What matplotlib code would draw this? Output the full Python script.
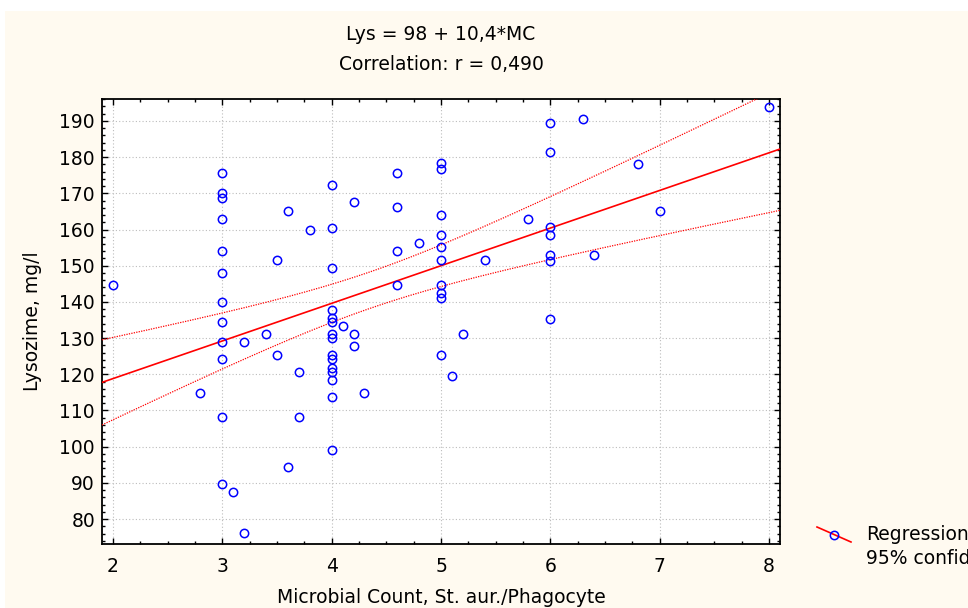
import numpy as np
import matplotlib
matplotlib.use("Agg")
import matplotlib.pyplot as plt
from matplotlib.lines import Line2D
from matplotlib.patches import Rectangle
from matplotlib.ticker import MultipleLocator

# Microbial count (St. aur./Phagocyte) and lysozyme (mg/l)
mc = [2.0, 2.8,
      3.0, 3.0, 3.0, 3.0, 3.0, 3.0, 3.0, 3.0, 3.0, 3.0, 3.0, 3.0,
      3.1, 3.2, 3.2, 3.4, 3.5, 3.5, 3.6, 3.6, 3.7, 3.7, 3.8,
      4.0, 4.0, 4.0, 4.0, 4.0, 4.0, 4.0, 4.0, 4.0, 4.0, 4.0, 4.0, 4.0, 4.0, 4.0,
      4.1, 4.2, 4.2, 4.2, 4.3, 4.6, 4.6, 4.6, 4.6, 4.8,
      5.0, 5.0, 5.0, 5.0, 5.0, 5.0, 5.0, 5.0, 5.0, 5.0,
      5.1, 5.2, 5.4, 5.8,
      6.0, 6.0, 6.0, 6.0, 6.0, 6.0, 6.0,
      6.3, 6.4, 6.8, 7.0, 8.0]
lys = [144.6, 114.9,
       175.7, 170.0, 168.7, 162.8, 154.0, 148.1, 140.0, 134.5, 128.8, 124.1, 108.3, 89.6,
       87.4, 128.8, 76.1, 131.2, 151.6, 125.3, 165.2, 94.3, 120.7, 108.3, 159.8,
       172.2, 160.5, 149.3, 137.7, 135.5, 134.4, 131.2, 129.9, 125.3, 124.1, 121.8,
       120.7, 118.4, 113.6, 99.0,
       133.4, 167.5, 131.2, 127.7, 114.9, 175.7, 166.3, 154.0, 144.7, 156.2,
       178.3, 176.8, 164.0, 158.6, 155.1, 151.6, 144.7, 142.5, 141.2, 125.3,
       119.5, 131.2, 151.6, 162.9,
       189.3, 181.5, 160.8, 158.5, 152.9, 151.4, 135.4,
       190.4, 152.9, 178.0, 165.2, 193.9]

# regression as printed on the chart
intercept = 98.0
slope = 10.4

title_lines = ["Lys = 98 + 10,4*MC", "Correlation: r = 0,490"]
x_label = "Microbial Count, St. aur./Phagocyte"
y_label = "Lysozime, mg/l"
legend_labels = ["Regression", "95% confid."]

plt.rcParams["font.family"] = ["DejaVu Sans"]
FS = 13.5

x = np.array(mc)
y = np.array(lys)

# 95% confidence band of the regression line
n = len(x)
resid = y - (intercept + slope * x)
s = np.sqrt(np.sum(resid ** 2) / (n - 2))
sxx = np.sum((x - x.mean()) ** 2)
t = 1.99
xs = np.linspace(1.9, 8.1, 200)
fit = intercept + slope * xs
half = t * s * np.sqrt(1 / n + (xs - x.mean()) ** 2 / sxx)

fig = plt.figure(figsize=(9.68, 6.08), dpi=100)
fig.patch.set_facecolor("white")
fig.add_artist(Rectangle((5 / 968, 0), 1, 1 - 10.5 / 608,
                         transform=fig.transFigure, facecolor="#fffaf0",
                         edgecolor="none", zorder=-10))

ax = fig.add_axes([102 / 968, 1 - 544 / 608, 678 / 968, 445.5 / 608])
ax.set_facecolor("white")

ax.plot(xs, fit, color="red", lw=1.2, zorder=3)
ax.plot(xs, fit + half, color="red", lw=0.9, ls=(0, (1, 1)), zorder=3)
ax.plot(xs, fit - half, color="red", lw=0.9, ls=(0, (1, 1)), zorder=3)
ax.plot(x, y, "o", ms=6, mfc="none", mec="blue", mew=1.1, zorder=4, clip_on=False)

ax.set_xlim(1.9, 8.1)
ax.set_ylim(73.1, 196.2)
ax.xaxis.set_major_locator(MultipleLocator(1))
ax.xaxis.set_minor_locator(MultipleLocator(0.25))
ax.yaxis.set_major_locator(MultipleLocator(10))
ax.yaxis.set_minor_locator(MultipleLocator(2))
ax.set_yticks(np.arange(80, 191, 10))
ax.grid(True, which="major", color="#bcbcbc", ls=(0, (1, 2)), lw=0.8)
ax.tick_params(which="both", direction="in", top=True, right=True,
               labelsize=FS, width=1)
ax.tick_params(which="major", length=4)
ax.tick_params(which="minor", length=2)
ax.tick_params(axis="x", pad=9)
ax.tick_params(axis="y", pad=5)
for sp in ax.spines.values():
    sp.set_linewidth(1.3)

ax.set_xlabel(x_label, fontsize=FS, va="center")
ax.xaxis.set_label_coords(0.5, -0.119)
ax.set_ylabel(y_label, fontsize=FS, va="center")
ax.yaxis.set_label_coords(-0.102, 0.5)

fig.text(441 / 968, 1 - 34 / 608, title_lines[0], ha="center", va="center",
         fontsize=FS)
fig.text(441 / 968, 1 - 64 / 608, title_lines[1], ha="center", va="center",
         fontsize=FS)

# legend key: slanted red line with a blue circle
fig.add_artist(Line2D([817 / 968, 851 / 968], [1 - 527 / 608, 1 - 542 / 608],
                      transform=fig.transFigure, color="red", lw=1.2))
fig.add_artist(Line2D([834 / 968], [1 - 534.5 / 608], transform=fig.transFigure,
                      marker="o", ms=6, mfc="none", mec="blue", mew=1.1))
fig.text(866 / 968, 1 - 534 / 608, legend_labels[0], ha="left", va="center",
         fontsize=FS)
fig.text(866 / 968, 1 - 558 / 608, legend_labels[1], ha="left", va="center",
         fontsize=FS)

fig.savefig("out.png", dpi=100)
